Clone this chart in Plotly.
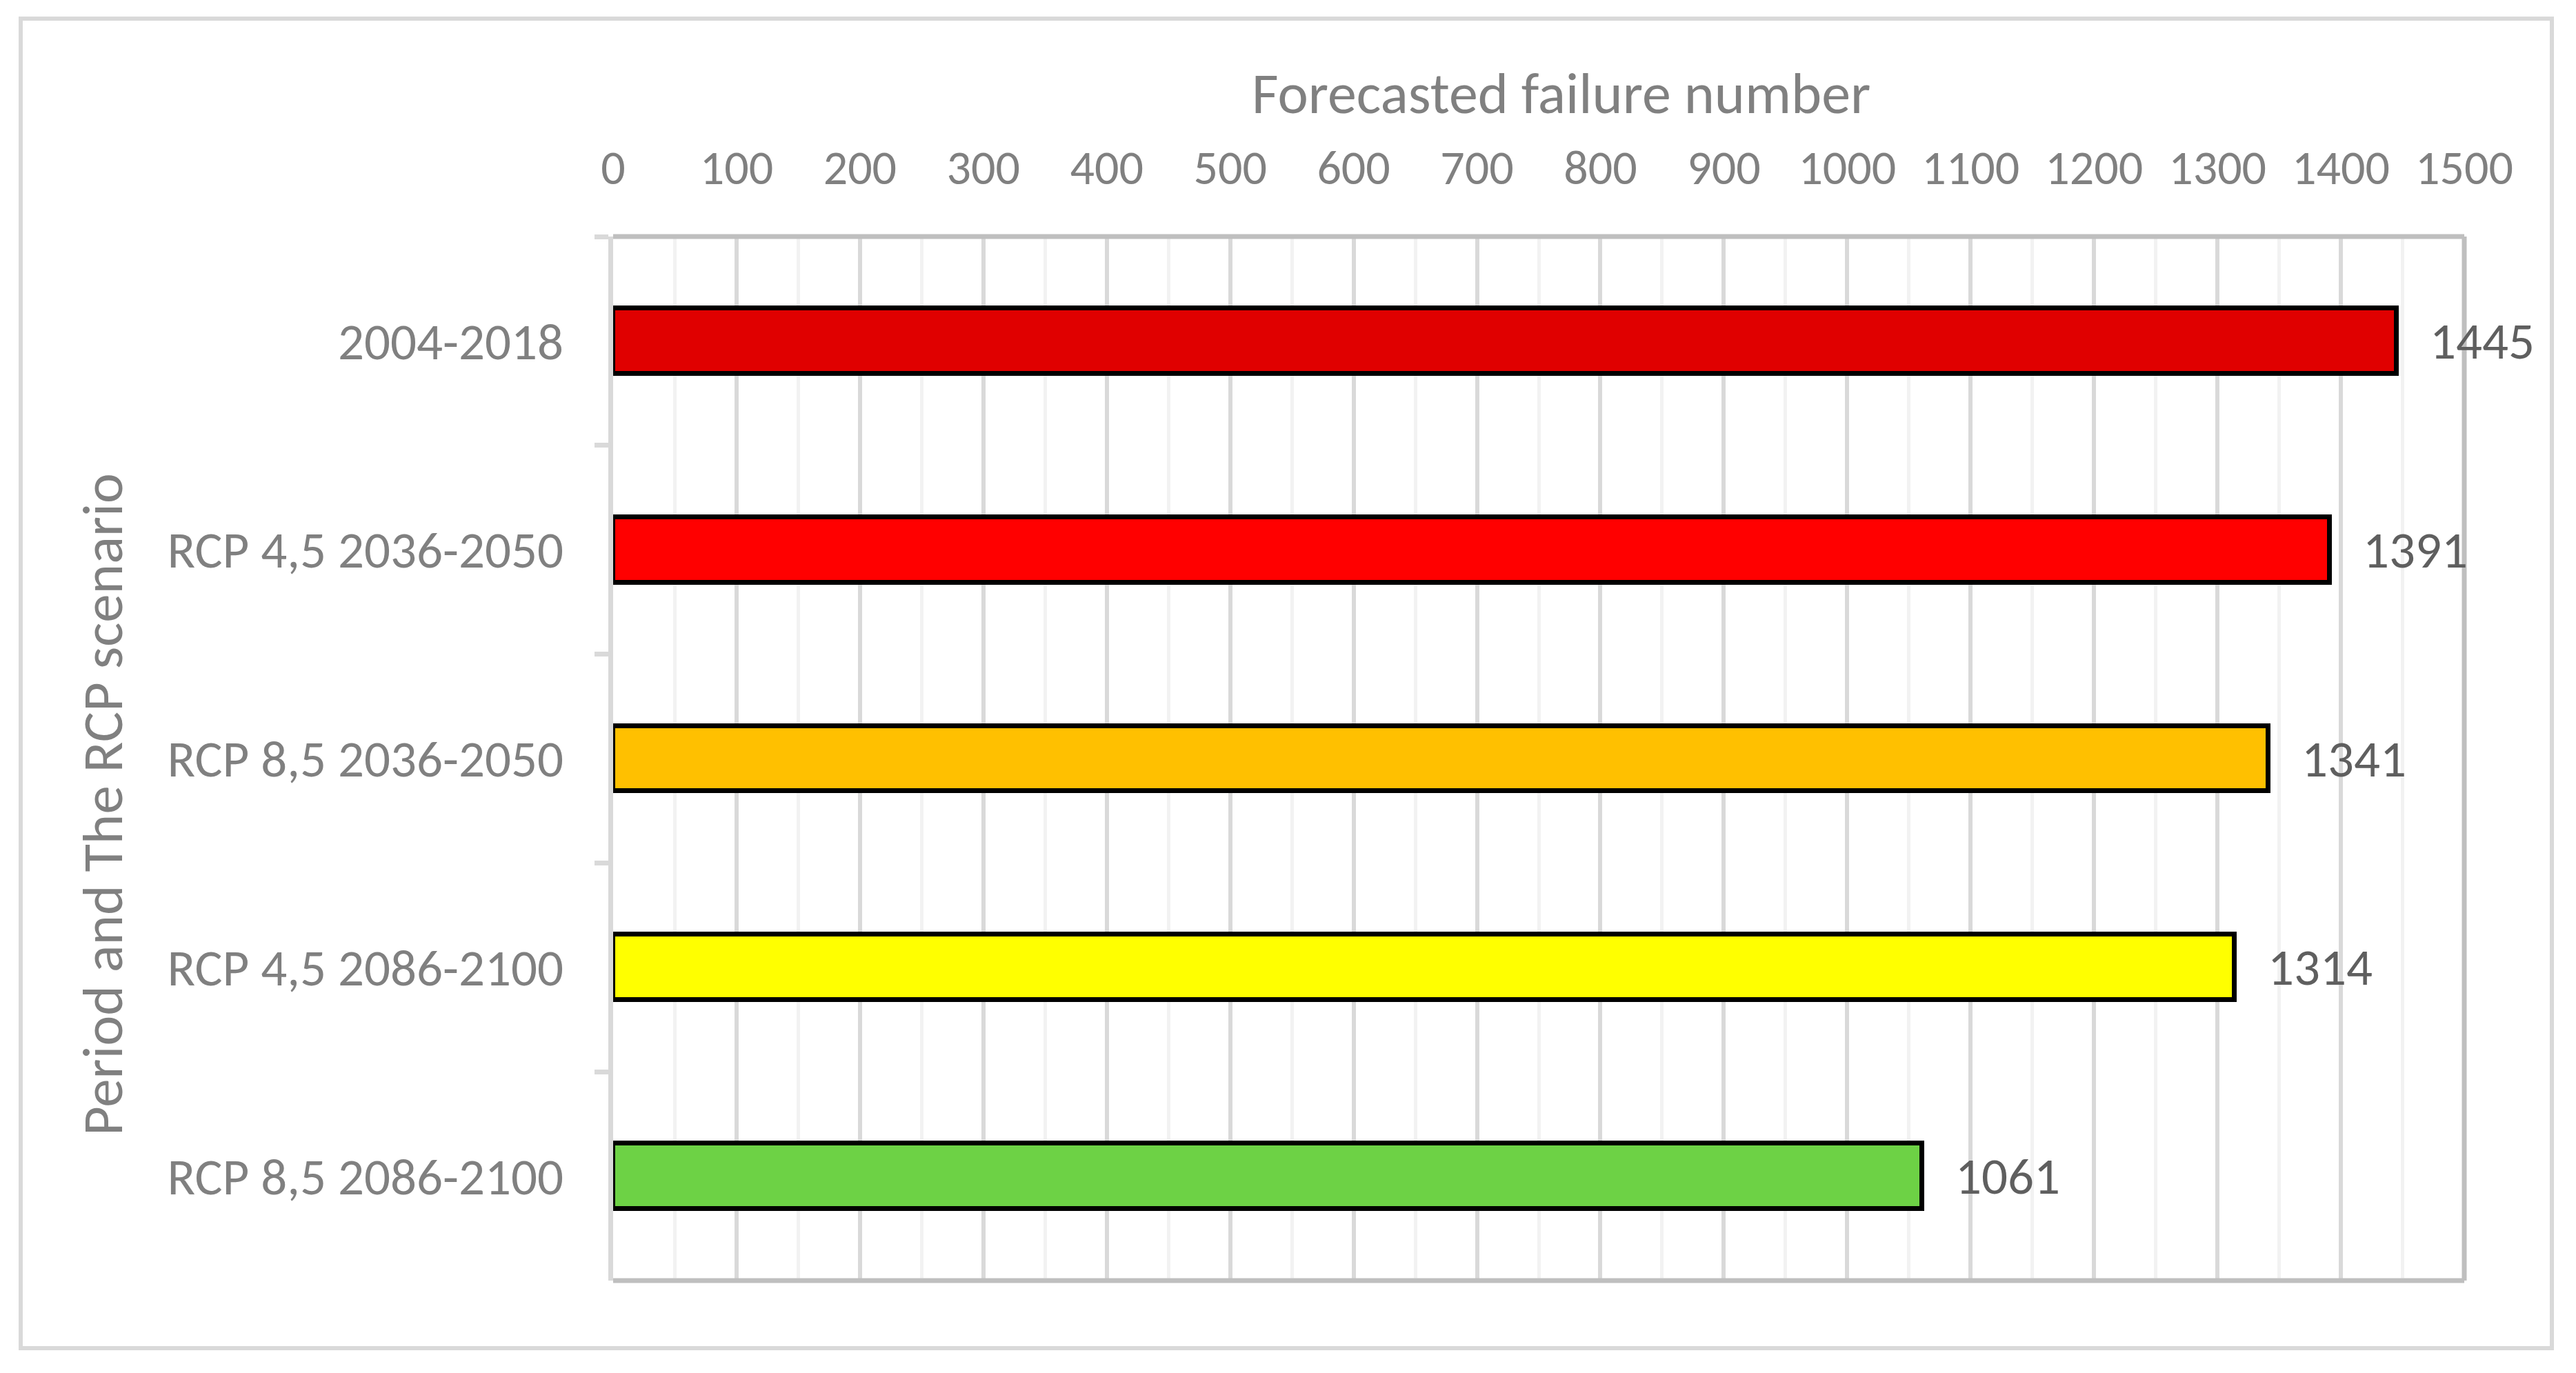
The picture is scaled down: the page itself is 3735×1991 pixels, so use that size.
import plotly.graph_objects as go

# data
periods = ['2004-2018', 'RCP 4,5 2036-2050', 'RCP 8,5 2036-2050',
           'RCP 4,5 2086-2100', 'RCP 8,5 2086-2100']
failures = [1445, 1391, 1341, 1314, 1061]
bar_colors = ['#E00000', '#FF0000', '#FFC000', '#FFFF00', '#6DD245']

W, H = 3735, 1991
# plot area in pixels (page body adds ~8px offset, so pull back by that)
OFF = 8
L, R, T, B = 889 - OFF, 3573 - OFF, 343 - OFF, 1857 - OFF
PW, PH = R - L, B - T

FONT = 'Carlito, Calibri, Lato, sans-serif'
TICK_GREY = '#808080'
LABEL_GREY = '#5f5f5f'


def px_x(p):
    return (p - OFF - L) / PW


def px_y(p):
    return (B - (p - OFF)) / PH


fig = go.Figure(go.Bar(
    x=failures, y=periods,
    orientation='h',
    width=0.313,
    marker=dict(color=bar_colors, line=dict(color='black', width=7)),
    hovertemplate='%{y}<br>%{x}<extra></extra>',
))

# value labels just right of each bar
for val, per in zip(failures, periods):
    fig.add_annotation(x=val, y=per, xref='x', yref='y', text=str(val),
                       showarrow=False, xanchor='left', yanchor='middle',
                       xshift=46, font=dict(family=FONT, size=75, color=LABEL_GREY))

fig.add_annotation(text='Forecasted failure number', xref='paper', yref='paper',
                   x=px_x(2263), y=px_y(136), showarrow=False,
                   xanchor='center', yanchor='middle',
                   font=dict(family=FONT, size=84, color=TICK_GREY))
fig.add_annotation(text='Period and The RCP scenario', xref='paper', yref='paper',
                   x=px_x(148), y=px_y(1167), showarrow=False, textangle=-90,
                   xanchor='center', yanchor='middle',
                   font=dict(family=FONT, size=83, color=TICK_GREY))

border = dict(color='#bfbfbf', width=7)
fig.add_shape(type='line', xref='paper', yref='paper', x0=0, x1=1, y0=1, y1=1,
              line=border, layer='above')
fig.add_shape(type='line', xref='paper', yref='paper', x0=0, x1=1, y0=0, y1=0,
              line=border, layer='above')
fig.add_shape(type='line', xref='paper', yref='paper', x0=1, x1=1, y0=0, y1=1,
              line=border, layer='above')
# outer chart frame
fig.add_shape(type='rect', xref='paper', yref='paper',
              x0=px_x(30), x1=px_x(3700), y0=px_y(1955), y1=px_y(27),
              line=dict(color='#d9d9d9', width=6), layer='below')

fig.update_layout(
    width=W, height=H,
    autosize=False,
    paper_bgcolor='white',
    plot_bgcolor='white',
    margin=dict(l=L, r=W - R, t=T, b=H - B, pad=0),
    font=dict(family=FONT, color=TICK_GREY),
    showlegend=False,
    bargap=0,
    xaxis=dict(
        side='top', range=[0, 1500], tick0=0, dtick=100,
        showgrid=True, gridcolor='#d9d9d9', gridwidth=6,
        minor=dict(dtick=50, showgrid=True, gridcolor='#f2f2f2', gridwidth=5),
        ticks='', showline=False, zeroline=False,
        tickfont=dict(family=FONT, size=70, color=TICK_GREY),
        ticklabelstandoff=61,
    ),
    yaxis=dict(
        type='category', autorange='reversed', tickson='boundaries',
        ticks='outside', ticklen=20, tickwidth=7, tickcolor='#d9d9d9',
        showline=True, linecolor='#d9d9d9', linewidth=7,
        showgrid=False, zeroline=False,
        tickfont=dict(family=FONT, size=75, color=TICK_GREY),
        ticklabelstandoff=50,
    ),
)

fig.write_html('out.html')
